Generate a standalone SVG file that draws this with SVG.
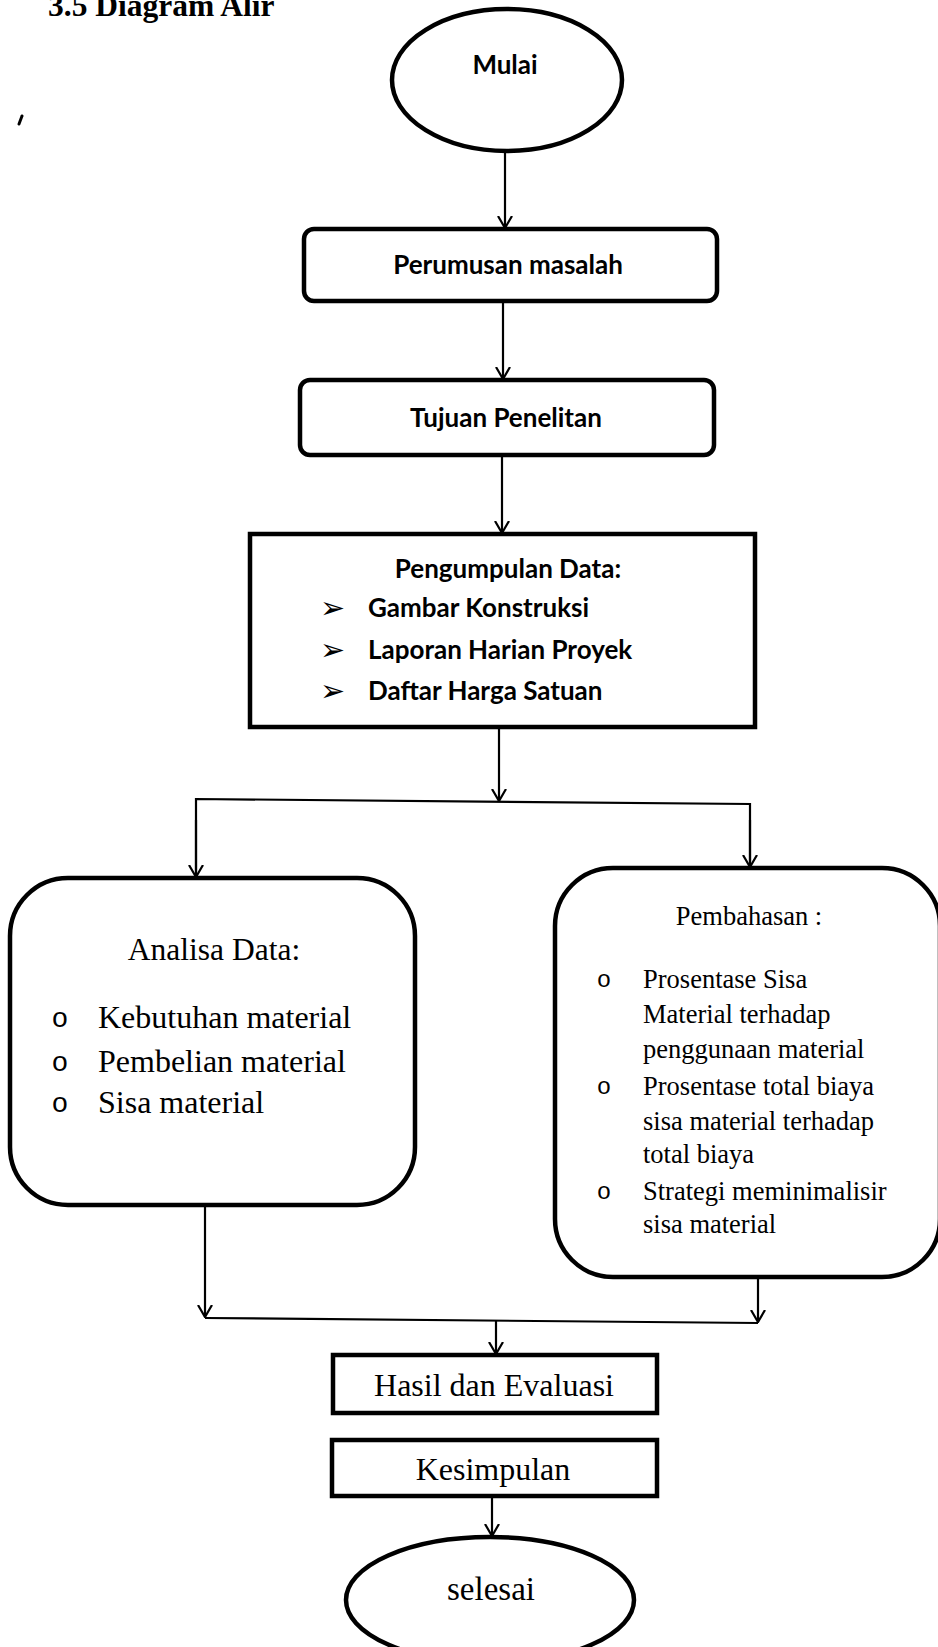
<svg xmlns="http://www.w3.org/2000/svg" width="938" height="1647" viewBox="0 0 938 1647">
<style>
.box{fill:#fff;stroke:#000;stroke-width:4.5}
.ln{fill:none;stroke:#000;stroke-width:2.2}
.sans{font-family:Lato,"Noto Sans",sans-serif;font-weight:700;font-size:26px;fill:#000}
.serif{font-family:"Liberation Serif","Times New Roman",serif;fill:#000}
.c{text-anchor:middle}
.bul{font-family:"Liberation Mono",monospace;fill:#000}
.arr{font-family:"DejaVu Sans",sans-serif;font-size:30px;fill:#000}
</style>
<defs>
<marker id="ah" viewBox="0 0 13 16" refX="12" refY="8" markerWidth="13" markerHeight="16" orient="auto" markerUnits="userSpaceOnUse">
<path d="M0,1 L12,8 L0,15" fill="none" stroke="#000" stroke-width="2.2"/>
</marker>
</defs>
<rect width="938" height="1647" fill="#fff"/>
<text class="serif" x="48" y="16" font-size="31.5" font-weight="700">3.5 Diagram Alir</text>
<path d="M22,116 L19,124" stroke="#000" stroke-width="3" stroke-linecap="round"/>

<g id="connectors">
<line class="ln" x1="505" y1="152" x2="505" y2="228" marker-end="url(#ah)"/>
<line class="ln" x1="503" y1="301" x2="503" y2="379" marker-end="url(#ah)"/>
<line class="ln" x1="502" y1="455" x2="502" y2="533" marker-end="url(#ah)"/>
<line class="ln" x1="499" y1="727" x2="499" y2="801" marker-end="url(#ah)"/>
<polyline class="ln" points="196,878 196,799 750,804 750,868"/>
<line class="ln" x1="196" y1="820" x2="196" y2="877" marker-end="url(#ah)"/>
<line class="ln" x1="750" y1="820" x2="750" y2="867" marker-end="url(#ah)"/>
<line class="ln" x1="205" y1="1205" x2="205" y2="1317" marker-end="url(#ah)"/>
<line class="ln" x1="758" y1="1277" x2="758" y2="1322" marker-end="url(#ah)"/>
<line class="ln" x1="205" y1="1318" x2="758" y2="1323"/>
<line class="ln" x1="496" y1="1320" x2="496" y2="1354" marker-end="url(#ah)"/>
<line class="ln" x1="492" y1="1496" x2="492" y2="1536" marker-end="url(#ah)"/>
</g>

<g id="mulai">
<ellipse class="box" cx="507" cy="80" rx="115" ry="71"/>
<text class="sans c" x="505" y="74">Mulai</text>
</g>

<g id="perumusan">
<rect class="box" x="304" y="229" width="413" height="72" rx="10"/>
<text class="sans c" x="508" y="274">Perumusan masalah</text>
</g>

<g id="tujuan">
<rect class="box" x="300" y="380" width="414" height="75" rx="10"/>
<text class="sans c" x="506" y="427">Tujuan Penelitan</text>
</g>

<g id="pengumpulan">
<rect class="box" x="250" y="534" width="505" height="193"/>
<text class="sans c" x="508" y="578">Pengumpulan Data:</text>
<text class="arr" x="320" y="618">➢</text>
<text class="sans" x="368" y="617">Gambar Konstruksi</text>
<text class="arr" x="320" y="660">➢</text>
<text class="sans" x="368" y="659">Laporan Harian Proyek</text>
<text class="arr" x="320" y="701">➢</text>
<text class="sans" x="368" y="700">Daftar Harga Satuan</text>
</g>

<g id="analisa">
<rect class="box" x="10" y="878" width="405" height="327" rx="58"/>
<text class="serif c" x="214" y="960" font-size="31.5">Analisa Data:</text>
<text class="bul c" x="60" y="1027" font-size="28">o</text>
<text class="serif" x="98" y="1028" font-size="32">Kebutuhan material</text>
<text class="bul c" x="60" y="1071" font-size="28">o</text>
<text class="serif" x="98" y="1072" font-size="32">Pembelian material</text>
<text class="bul c" x="60" y="1112" font-size="28">o</text>
<text class="serif" x="98" y="1113" font-size="32">Sisa material</text>
</g>

<g id="pembahasan">
<rect class="box" x="555" y="868" width="385" height="409" rx="58"/>
<text class="serif c" x="749" y="925" font-size="26.5">Pembahasan :</text>
<text class="bul c" x="604" y="987" font-size="24">o</text>
<text class="serif" x="643" y="988" font-size="26.5">Prosentase Sisa</text>
<text class="serif" x="643" y="1023" font-size="26.5">Material terhadap</text>
<text class="serif" x="643" y="1058" font-size="26.5">penggunaan material</text>
<text class="bul c" x="604" y="1094" font-size="24">o</text>
<text class="serif" x="643" y="1095" font-size="26.5">Prosentase total biaya</text>
<text class="serif" x="643" y="1130" font-size="26.5">sisa material terhadap</text>
<text class="serif" x="643" y="1163" font-size="26.5">total biaya</text>
<text class="bul c" x="604" y="1199" font-size="24">o</text>
<text class="serif" x="643" y="1200" font-size="26.5">Strategi meminimalisir</text>
<text class="serif" x="643" y="1233" font-size="26.5">sisa material</text>
</g>

<g id="hasil">
<rect class="box" x="333" y="1355" width="324" height="58"/>
<text class="serif c" x="494" y="1396" font-size="32">Hasil dan Evaluasi</text>
</g>

<g id="kesimpulan">
<rect class="box" x="332" y="1440" width="325" height="56"/>
<text class="serif c" x="493" y="1480" font-size="32">Kesimpulan</text>
</g>

<g id="selesai">
<ellipse class="box" cx="490" cy="1600" rx="144" ry="63"/>
<text class="serif c" x="491" y="1600" font-size="33">selesai</text>
</g>
</svg>
